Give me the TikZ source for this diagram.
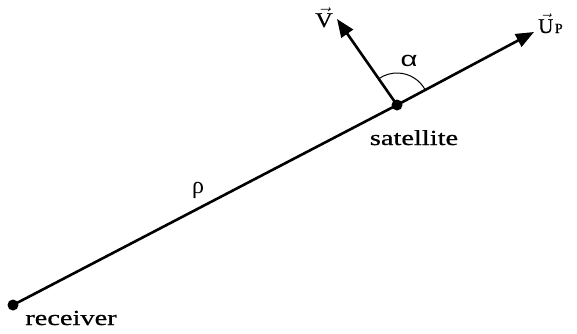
\documentclass[tikz,border=0pt]{standalone}
\usepackage{amsmath}
\usepackage{graphicx}
\usepackage{fontspec}
\setmainfont{Liberation Serif}
\newfontfamily\vecfont{Liberation Serif}[FakeBold=0.5]
\newfontfamily\wordfont{Liberation Serif}[FakeStretch=1.32,FakeBold=0.8]
\newfontfamily\greekfont{Liberation Sans}
\usetikzlibrary{arrows.meta,calc}
\newcommand{\vecbar}[1]{$\vec{\textnormal{\vecfont #1}}$}
\begin{document}
\begin{tikzpicture}[x=1pt,y=-1pt,
  lbl/.style={inner sep=0pt,font=\fontsize{21}{24}\selectfont},
  word/.style={inner sep=0pt,font=\fontsize{21.5}{24}\wordfont},
  vecline/.style={line width=2.6pt,-{Triangle[length=18pt,width=14pt]}},
  pt/.style={circle,fill=black,inner sep=0pt,minimum size=11pt}]
\useasboundingbox (0,0) rectangle (577,333);
\node[pt] (rec) at (13,305) {};
\node[pt] (sat) at (397,105) {};
\coordinate (up) at (534,32);
\coordinate (v) at (337,19);
\draw[line width=2.6pt] (rec.center) -- (sat.center);
\draw[vecline] (sat.center) -- (up);
\draw[vecline] (sat.center) -- (v);
\draw[line width=1pt] ($(sat.center)+(-28:32)$) arc[start angle=-28,end angle=-124,radius=32];
\node[word,anchor=base] (rl) at (71,325) {receiver};
\node[word,anchor=base] (sl) at (414,145) {satellite};
\node[lbl,font=\fontsize{24}{28}\selectfont] (rho) at (198,190) {ρ};
\node[lbl,font=\fontsize{21}{24}\greekfont] (al) at (409,61) {\scalebox{1.4}[1]{α}};
\node[lbl,anchor=base] (vl) at (324,27) {\scalebox{1.15}[1]{\vecbar{V}}};
\node[lbl,anchor=base west] (ul) at (538,33) {\vecbar{U}\kern1.5pt{\fontsize{14}{16}\vecfont P}};
\end{tikzpicture}
\end{document}
